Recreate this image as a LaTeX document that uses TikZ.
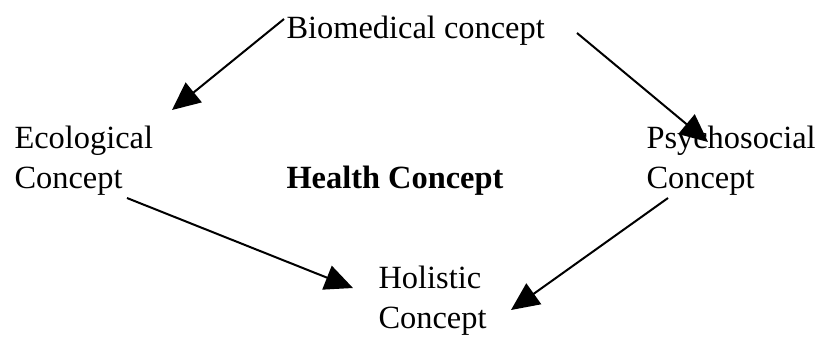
\documentclass[tikz,border=0pt]{standalone}
\usepackage{fontspec}
\setmainfont{Liberation Serif}
\usetikzlibrary{arrows.meta}
\begin{document}
\begin{tikzpicture}[x=0.375pt,y=-0.375pt,
  lbl/.style={anchor=base west,inner sep=0pt,font=\fontsize{12.15}{14}\selectfont},
  conn/.style={line width=0.75pt,-{Triangle[length=10.5pt,width=9.5pt]}}]
\useasboundingbox (0,0) rectangle (820,341);
\node[lbl] (bio) at (286,38) {Biomedical concept};
\node[lbl] (eco1) at (14,148) {Ecological};
\node[lbl] (eco2) at (14,188) {Concept};
\node[lbl,font=\fontsize{12.15}{14}\selectfont\bfseries] (health) at (286,188) {Health Concept};
\node[lbl] (psy1) at (646,148) {Psychosocial};
\node[lbl] (psy2) at (646,188) {Concept};
\node[lbl] (hol1) at (378,288) {Holistic};
\node[lbl] (hol2) at (378,328) {Concept};
\coordinate (a1s) at (284,19);
\coordinate (a1e) at (172,110);
\coordinate (a2s) at (577,33);
\coordinate (a2e) at (708,142);
\coordinate (a3s) at (127,198);
\coordinate (a3e) at (353,288);
\coordinate (a4s) at (668,198);
\coordinate (a4e) at (511,310);
\draw[conn] (a1s) -- (a1e);
\draw[conn] (a2s) -- (a2e);
\draw[conn] (a3s) -- (a3e);
\draw[conn] (a4s) -- (a4e);
\end{tikzpicture}
\end{document}
